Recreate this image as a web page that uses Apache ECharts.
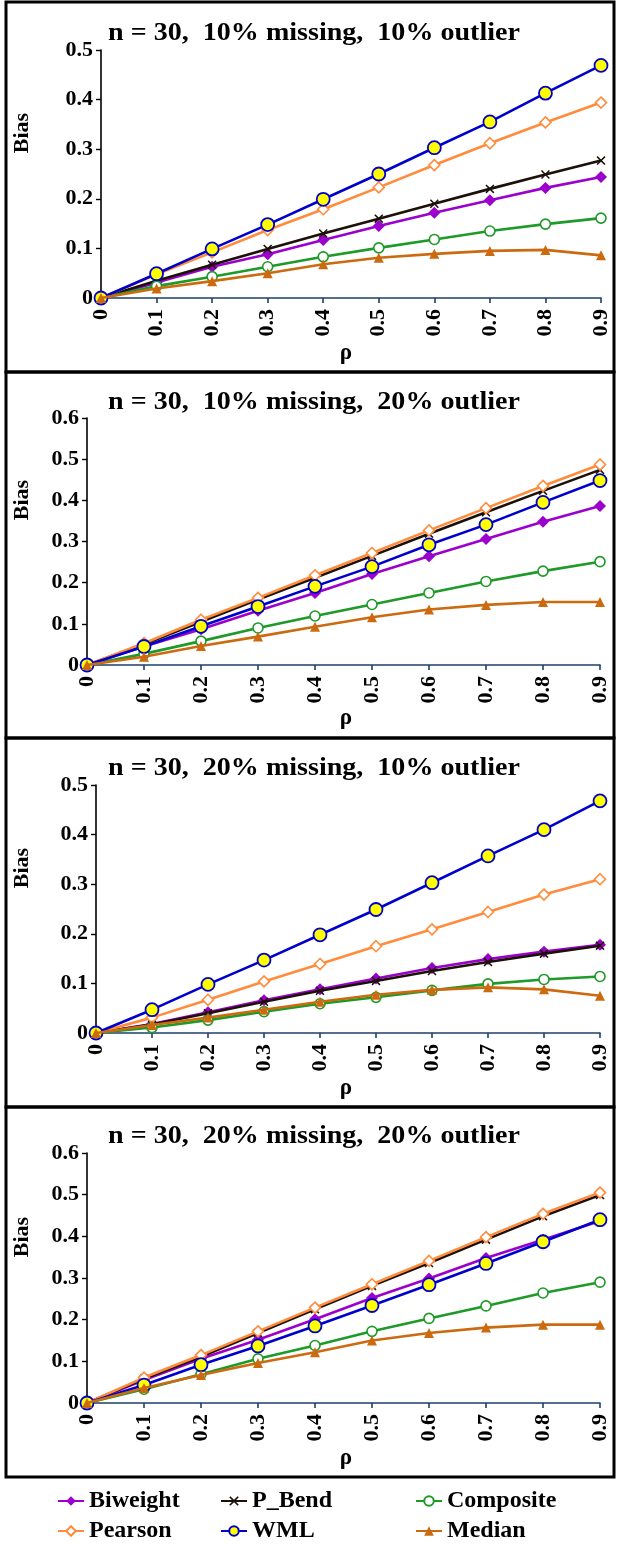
<!DOCTYPE html>
<html>
<head>
<meta charset="utf-8">
<script src="https://cdn.jsdelivr.net/npm/echarts@6/dist/echarts.min.js"></script>
<style>
html,body{margin:0;padding:0;background:#fff;}
#chart{width:617px;height:1544px;}
</style>
</head>
<body>
<div id="chart"></div>
<script>
// ---- data ----
const rhoLabels = ['0','0.1','0.2','0.3','0.4','0.5','0.6','0.7','0.8','0.9'];
const panelTitles = [
  'n = 30,  10% missing,  10% outlier',
  'n = 30,  10% missing,  20% outlier',
  'n = 30,  20% missing,  10% outlier',
  'n = 30,  20% missing,  20% outlier'
];
const yMaxes = [0.5, 0.6, 0.5, 0.6];
const seriesNames = ['Biweight','P_Bend','Composite','Pearson','WML','Median'];

// panel 1: 10% missing, 10% outlier
const p1Biweight  = [0,0.031,0.063,0.088,0.117,0.145,0.172,0.197,0.222,0.244];
const p1PBend     = [0,0.035,0.067,0.099,0.130,0.160,0.190,0.220,0.249,0.277];
const p1Composite = [0,0.024,0.043,0.063,0.083,0.101,0.118,0.135,0.149,0.161];
const p1Pearson   = [0,0.048,0.092,0.137,0.179,0.223,0.268,0.312,0.354,0.394];
const p1WML       = [0,0.049,0.099,0.148,0.199,0.250,0.303,0.355,0.413,0.469];
const p1Median    = [0,0.019,0.034,0.050,0.068,0.081,0.089,0.095,0.097,0.086];

// panel 2: 10% missing, 20% outlier
const p2Biweight  = [0,0.045,0.087,0.132,0.175,0.221,0.264,0.306,0.348,0.386];
const p2PBend     = [0,0.050,0.105,0.159,0.212,0.265,0.319,0.371,0.423,0.474];
const p2Composite = [0,0.027,0.058,0.090,0.119,0.147,0.175,0.203,0.228,0.251];
const p2Pearson   = [0,0.053,0.110,0.163,0.218,0.272,0.327,0.381,0.435,0.487];
const p2WML       = [0,0.045,0.094,0.142,0.191,0.239,0.292,0.341,0.395,0.448];
const p2Median    = [0,0.020,0.046,0.069,0.093,0.116,0.135,0.146,0.153,0.153];

// panel 3: 20% missing, 10% outlier
const p3Biweight  = [0,0.018,0.042,0.066,0.088,0.110,0.131,0.149,0.164,0.178];
const p3PBend     = [0,0.017,0.040,0.063,0.085,0.105,0.125,0.143,0.160,0.176];
const p3Composite = [0,0.011,0.026,0.043,0.059,0.072,0.086,0.099,0.108,0.114];
const p3Pearson   = [0,0.031,0.067,0.104,0.139,0.175,0.209,0.244,0.279,0.310];
const p3WML       = [0,0.047,0.098,0.147,0.198,0.249,0.303,0.357,0.410,0.468];
const p3Median    = [0,0.016,0.031,0.047,0.063,0.077,0.087,0.092,0.088,0.075];

// panel 4: 20% missing, 20% outlier
const p4Biweight  = [0,0.055,0.106,0.152,0.201,0.252,0.299,0.348,0.392,0.437];
const p4PBend     = [0,0.058,0.111,0.168,0.225,0.281,0.336,0.392,0.448,0.499];
const p4Composite = [0,0.033,0.069,0.106,0.138,0.172,0.203,0.233,0.264,0.290];
const p4Pearson   = [0,0.061,0.115,0.172,0.229,0.285,0.341,0.398,0.454,0.505];
const p4WML       = [0,0.043,0.092,0.137,0.185,0.234,0.284,0.335,0.387,0.440];
const p4Median    = [0,0.036,0.067,0.096,0.122,0.150,0.168,0.181,0.188,0.188];

const panelData = [
  [p1Biweight,p1PBend,p1Composite,p1Pearson,p1WML,p1Median],
  [p2Biweight,p2PBend,p2Composite,p2Pearson,p2WML,p2Median],
  [p3Biweight,p3PBend,p3Composite,p3Pearson,p3WML,p3Median],
  [p4Biweight,p4PBend,p4Composite,p4Pearson,p4WML,p4Median]
];

// ---- styles ----
const FONT = '"Liberation Serif", "Times New Roman", serif';
const xSym = 'path://M0,1.2 L1.2,0 L5,3.8 L8.8,0 L10,1.2 L6.2,5 L10,8.8 L8.8,10 L5,6.2 L1.2,10 L0,8.8 L3.8,5 Z';
const styles = {
  Biweight:  {color:'#9B00CC', symbol:'diamond', size:12, fill:'#9B00CC', border:'#9B00CC', bw:0},
  P_Bend:    {color:'#1C1008', symbol:xSym, size:9, fill:'#1C1008', border:'#1C1008', bw:0},
  Composite: {color:'#1E9A28', symbol:'circle', size:10, fill:'#ffffff', border:'#1E9A28', bw:1.6},
  Pearson:   {color:'#FF8C3C', symbol:'diamond', size:11, fill:'#ffffff', border:'#FF8C3C', bw:1.6},
  WML:       {color:'#0000CC', symbol:'circle', size:13, fill:'#FFFF00', border:'#0000CC', bw:1.8},
  Median:    {color:'#CC6A10', symbol:'triangle', size:10, fill:'#CC6A10', border:'#CC6A10', bw:0}
};

const grids = [
  {left:101, top:50,   width:500, height:248},
  {left:87,  top:418,  width:513, height:247},
  {left:96,  top:785,  width:504, height:248},
  {left:87,  top:1153, width:513, height:250}
];
const boxes = [[2,372],[372,738],[738,1107],[1107,1477]];
const titleY = [33, 402, 768, 1136];
const rhoY = [353, 718, 1088, 1458];
const biasY = [133, 500, 868, 1237];

const xAxes = [], yAxes = [], series = [], graphics = [];
grids.forEach((g, i) => {
  xAxes.push({
    type:'category', gridIndex:i, data:rhoLabels, boundaryGap:false,
    axisLine:{lineStyle:{color:'#1F3F6A', width:1.6}},
    axisTick:{alignWithLabel:true, length:5, lineStyle:{color:'#1F3F6A', width:1.6}},
    axisLabel:{rotate:90, margin:11, color:'#000', fontFamily:FONT, fontWeight:'bold', fontSize:22},
    splitLine:{show:false}
  });
  yAxes.push({
    type:'value', gridIndex:i, min:0, max:yMaxes[i], interval:0.1,
    axisLine:{show:true, lineStyle:{color:'#000', width:1.6}},
    axisTick:{show:true, length:5, lineStyle:{color:'#000', width:1.4}},
    axisLabel:{margin:8, color:'#000', fontFamily:FONT, fontWeight:'bold', fontSize:22,
      formatter:v => v === 0 ? '0' : v.toFixed(1)},
    splitLine:{show:false}
  });
  seriesNames.forEach((name, k) => {
    const s = styles[name];
    series.push({
      name, type:'line', xAxisIndex:i, yAxisIndex:i, data:panelData[i][k],
      symbol:s.symbol, symbolSize:s.size, showSymbol:true,
      lineStyle:{color:s.color, width:2.6},
      itemStyle:{color:s.fill, borderColor:s.border, borderWidth:s.bw},
      z: 2 + k, animation:false
    });
  });
  graphics.push({
    type:'rect', shape:{x:6, y:boxes[i][0], width:608, height:boxes[i][1]-boxes[i][0]},
    style:{fill:null, stroke:'#000', lineWidth:3}, silent:true
  });
  graphics.push({
    type:'text', x:314, y:titleY[i], scaleX:1.1,
    style:{text:panelTitles[i], font:'bold 25.5px ' + FONT, fill:'#000',
      textAlign:'center', textVerticalAlign:'middle', align:'center', verticalAlign:'middle'}
  });
  graphics.push({
    type:'text', x:346, y:rhoY[i],
    style:{text:'ρ', font:'bold 23px ' + FONT, fill:'#000',
      textAlign:'center', textVerticalAlign:'middle', align:'center', verticalAlign:'middle'}
  });
  graphics.push({
    type:'text', x:22, y:biasY[i], rotation:Math.PI/2,
    style:{text:'Bias', font:'bold 22px ' + FONT, fill:'#000',
      textAlign:'center', textVerticalAlign:'middle', align:'center', verticalAlign:'middle'}
  });
});

// one legend per item, placed in a 3x2 layout like the reference
const legendSlots = [
  {name:'Biweight',  left:57,  top:1489},
  {name:'P_Bend',    left:220, top:1489},
  {name:'Composite', left:415, top:1489},
  {name:'Pearson',   left:57,  top:1519},
  {name:'WML',       left:220, top:1519},
  {name:'Median',    left:415, top:1519}
];
const legends = legendSlots.map(l => ({
  left:l.left, top:l.top, data:[l.name], orient:'horizontal',
  itemWidth:26, itemHeight:12, selectedMode:false, padding:0,
  textStyle:{fontFamily:FONT, fontWeight:'bold', fontSize:24, color:'#000'}
}));

const chart = echarts.init(document.getElementById('chart'), null, {renderer:'canvas'});
chart.setOption({
  animation:false,
  backgroundColor:'#fff',
  grid:grids,
  xAxis:xAxes,
  yAxis:yAxes,
  legend:legends,
  graphic:{elements:graphics},
  series
});
</script>
</body>
</html>
